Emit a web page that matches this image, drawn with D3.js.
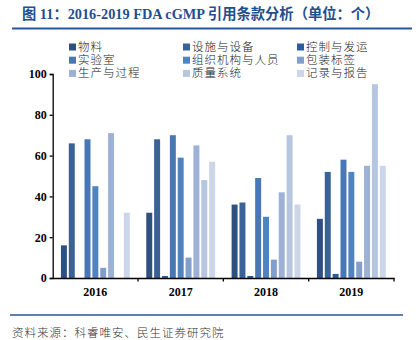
<!DOCTYPE html>
<html>
<head>
<meta charset="utf-8">
<script src="https://cdn.jsdelivr.net/npm/d3@7"></script>
<style>
  body { margin: 0; background: #fff; }
  svg text { font-family: "Liberation Serif", "Noto Sans CJK SC", serif; }
</style>
</head>
<body>
<script>
// data
const years = ['2016', '2017', '2018', '2019'];
const series = ['物料', '设施与设备', '控制与发运', '实验室', '组织机构与人员', '包装标签', '生产与过程', '质量系统', '记录与报告'];
const colors = ['#2f5180', '#3a6296', '#2d5c9e', '#4777b4', '#5084c1', '#809fcc', '#9cb1d4', '#b6c5e0', '#ccd6e9'];
const values = {
  '2016': [16, 66, 0, 68, 45, 5, 71, 0, 32],
  '2017': [32, 68, 1, 70, 59, 10, 65, 48, 57],
  '2018': [36, 37, 1, 49, 30, 9, 42, 70, 36],
  '2019': [29, 52, 2, 58, 52, 8, 55, 95, 55]
};
const yTicks = [0, 20, 40, 60, 80, 100];

const W = 420, H = 340;
const svg = d3.select('body').append('svg').attr('width', W).attr('height', H);

// title
svg.append('text')
  .attr('x', 22).attr('y', 19)
  .attr('fill', '#1f4f8f')
  .attr('font-size', 14.3)
  .attr('font-weight', 'bold')
  .text('图 11：2016-2019 FDA cGMP 引用条款分析（单位：个）');
svg.append('line')
  .attr('x1', 12).attr('x2', 412).attr('y1', 28.5).attr('y2', 28.5)
  .attr('stroke', '#2a5597').attr('stroke-width', 2);

// scales
const x0 = d3.scaleBand().domain(years).range([52.7, 394]).padding(0);
const x1 = d3.scaleBand().domain(series).range([7.3, x0.bandwidth() - 7.3]).paddingInner(0.24).paddingOuter(0.12);
const y = d3.scaleLinear().domain([0, 100]).range([278, 74]);
const color = d3.scaleOrdinal().domain(series).range(colors);

// bars
const groups = svg.append('g').selectAll('g')
  .data(years).join('g')
  .attr('transform', d => 'translate(' + x0(d) + ',0)');
groups.selectAll('rect')
  .data(yr => series.map((s, i) => ({ s: s, v: values[yr][i] })))
  .join('rect')
  .attr('x', d => x1(d.s))
  .attr('width', x1.bandwidth())
  .attr('y', d => y(d.v))
  .attr('height', d => y(0) - y(d.v))
  .attr('fill', d => color(d.s));

// y axis
const yAxis = svg.append('g')
  .attr('transform', 'translate(52.7,0)')
  .call(d3.axisLeft(y).tickValues(yTicks).tickSize(3).tickSizeOuter(3));
yAxis.select('.domain').attr('stroke', '#000').attr('stroke-width', 1.3);
yAxis.selectAll('.tick line').attr('stroke', '#000').attr('stroke-width', 1.3);
yAxis.selectAll('.tick text')
  .attr('font-family', '"Liberation Serif", serif')
  .attr('font-size', 12).attr('font-weight', 'bold').attr('fill', '#000')
  .attr('x', -6);

// x axis
const xAxis = svg.append('g')
  .attr('transform', 'translate(0,278)')
  .call(d3.axisBottom(x0).tickSize(0).tickSizeOuter(0));
xAxis.select('.domain').attr('stroke', '#000').attr('stroke-width', 1.3);
xAxis.selectAll('.tick text')
  .attr('font-family', '"Liberation Serif", serif')
  .attr('font-size', 12).attr('font-weight', 'bold').attr('fill', '#000')
  .attr('dy', '1.25em');
// boundary ticks between categories
svg.append('g').selectAll('line')
  .data(years.slice(1).concat(['end']))
  .join('line')
  .attr('x1', d => d === 'end' ? x0.range()[1] : x0(d))
  .attr('x2', d => d === 'end' ? x0.range()[1] : x0(d))
  .attr('y1', 278).attr('y2', 281.5)
  .attr('stroke', '#000').attr('stroke-width', 1.3);

// legend
const legend = svg.append('g').selectAll('g')
  .data(series).join('g')
  .attr('transform', (d, i) => 'translate(' + (69 + (i % 3) * 114) + ',' + (47 + Math.floor(i / 3) * 13.2) + ')');
legend.append('rect')
  .attr('x', 0).attr('y', -3.5).attr('width', 7).attr('height', 7)
  .attr('fill', d => color(d));
legend.append('text')
  .attr('x', 9).attr('y', 0).attr('dy', '0.35em')
  .attr('font-family', '"Noto Sans CJK SC", sans-serif')
  .attr('font-size', 11.5).attr('font-weight', 300).attr('fill', '#222')
  .attr('letter-spacing', 1)
  .text(d => d);

// footer
svg.append('line')
  .attr('x1', 10).attr('x2', 403).attr('y1', 315).attr('y2', 315)
  .attr('stroke', '#2a5597').attr('stroke-width', 1.5);
svg.append('text')
  .attr('x', 12).attr('y', 337)
  .attr('font-family', '"Noto Sans CJK SC", sans-serif')
  .attr('font-size', 11.5).attr('font-weight', 300).attr('fill', '#333')
  .attr('letter-spacing', 1)
  .text('资料来源：科睿唯安、民生证券研究院');
</script>
</body>
</html>
